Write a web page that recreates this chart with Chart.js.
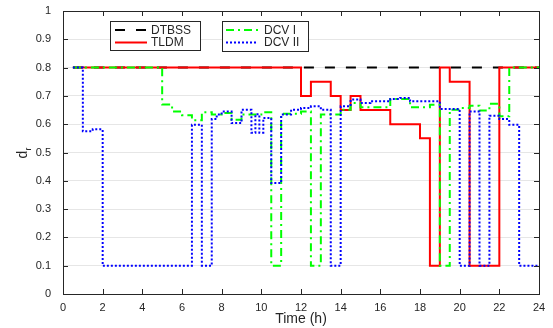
<!DOCTYPE html>
<html>
<head>
<meta charset="utf-8">
<script src="https://cdn.jsdelivr.net/npm/chart.js@4"></script>
<style>
  html, body { margin: 0; padding: 0; background: #fff; }
  #wrap { width: 553px; height: 328px; position: relative; }
</style>
</head>
<body>
<div id="wrap"><canvas id="c"></canvas></div>
<script>
// Step series: each value holds from its time until the next time.
const dtbssT = [0.5, 24];
const dtbssV = [0.8, 0.8];

const tldmT = [0.5, 12, 12.5, 13.5, 14, 14.5, 15, 16.5, 18, 18.5, 19, 19.5, 20.5, 22, 24];
const tldmV = [0.8, 0.7, 0.75, 0.7, 0.65, 0.7, 0.65, 0.6, 0.55, 0.1, 0.8, 0.75, 0.1, 0.8, 0.8];

const dcv1T = [0.5, 5, 5.5, 6, 6.5, 7, 7.5, 8, 8.5, 9, 10, 10.5, 11, 12, 12.5, 13, 14, 14.5, 15,
               16.5, 17.5, 18.5, 19, 19.5, 20, 20.5, 21, 21.5, 22, 22.5, 24];
const dcv1V = [0.8, 0.67, 0.645, 0.632, 0.614, 0.642, 0.634, 0.64, 0.616, 0.634, 0.642, 0.1, 0.637, 0.645, 0.1, 0.634, 0.651, 0.675, 0.66,
               0.689, 0.66, 0.669, 0.1, 0.651, 0.657, 0.665, 0.648, 0.672, 0.628, 0.8, 0.8];

const dcv2T = [0.5, 1, 1.5, 2, 6.5, 7, 7.5, 7.75, 8, 8.5, 9, 9.5, 9.7, 9.9, 10.1, 10.5, 11, 11.5, 12, 12.5, 13, 13.5,
               14, 14.5, 15, 15.5, 16.5, 17, 17.5, 19, 20, 20.5, 21, 21.5, 22, 22.5, 23, 24];
const dcv2V = [0.8, 0.575, 0.582, 0.1, 0.598, 0.1, 0.618, 0.634, 0.645, 0.604, 0.651, 0.57, 0.635, 0.57, 0.622, 0.392, 0.634, 0.651, 0.657, 0.663, 0.651, 0.1,
               0.663, 0.687, 0.675, 0.681, 0.689, 0.693, 0.681, 0.654, 0.1, 0.645, 0.1, 0.63, 0.618, 0.598, 0.1, 0.1];

const xTicks = [0, 2, 4, 6, 8, 10, 12, 14, 16, 18, 20, 22, 24];
const yTicks = [0, 0.1, 0.2, 0.3, 0.4, 0.5, 0.6, 0.7, 0.8, 0.9, 1];

const FONT = '"Liberation Sans", Arial, sans-serif';
const INK = '#262626';

const pts = (ts, vs) => ts.map((t, i) => ({ x: t, y: vs[i] }));

const series = [
  { label: 'DTBSS', t: dtbssT, v: dtbssV, color: '#000000', dash: [10, 11], order: 4 },
  { label: 'TLDM',  t: tldmT,  v: tldmV,  color: '#ff0000', dash: [],        order: 3 },
  { label: 'DCV I', t: dcv1T,  v: dcv1V,  color: '#00ff00', dash: [8, 4, 2, 4], order: 2 },
  { label: 'DCV II', t: dcv2T, v: dcv2V,  color: '#0000ff', dash: [2, 2],    order: 1 },
];

// ─── Frame, inward ticks, legend boxes, axis titles ─────────────────────
const matlabFrame = {
  id: 'matlabFrame',
  afterDraw(chart) {
    const { ctx, chartArea: a, scales: { x, y } } = chart;
    ctx.save();
    ctx.strokeStyle = INK;
    ctx.lineWidth = 1;
    ctx.setLineDash([]);
    ctx.strokeRect(Math.round(a.left) + 0.5, Math.round(a.top) + 0.5,
                   Math.round(a.right - a.left), Math.round(a.bottom - a.top));
    ctx.beginPath();
    xTicks.forEach(v => {
      const px = Math.round(x.getPixelForValue(v)) + 0.5;
      ctx.moveTo(px, a.bottom); ctx.lineTo(px, a.bottom - 5);
      ctx.moveTo(px, a.top); ctx.lineTo(px, a.top + 5);
    });
    yTicks.forEach(v => {
      const py = Math.round(y.getPixelForValue(v)) + 0.5;
      ctx.moveTo(a.left, py); ctx.lineTo(a.left + 5, py);
      ctx.moveTo(a.right, py); ctx.lineTo(a.right - 5, py);
    });
    ctx.stroke();

    // legend boxes
    const boxes = [
      { x: 110.5, y: 21.5, w: 90, h: 29, lineX: 115, textX: 151, items: [series[0], series[1]] },
      { x: 222.5, y: 21.5, w: 86, h: 30, lineX: 226, textX: 264, items: [series[2], series[3]] },
    ];
    ctx.font = '12px ' + FONT;
    ctx.textBaseline = 'middle';
    ctx.textAlign = 'left';
    boxes.forEach(b => {
      ctx.fillStyle = '#fff';
      ctx.fillRect(b.x, b.y, b.w, b.h);
      ctx.strokeStyle = INK;
      ctx.lineWidth = 1;
      ctx.setLineDash([]);
      ctx.strokeRect(b.x, b.y, b.w, b.h);
      b.items.forEach((s, i) => {
        const cy = b.y + 8.5 + i * 12.5;
        ctx.strokeStyle = s.color;
        ctx.lineWidth = 2;
        ctx.setLineDash(s.dash);
        ctx.beginPath();
        ctx.moveTo(b.lineX, cy); ctx.lineTo(b.lineX + 32, cy);
        ctx.stroke();
        ctx.setLineDash([]);
        ctx.fillStyle = INK;
        ctx.fillText(s.label, b.textX, cy + 0.5);
      });
    });

    // axis titles
    ctx.fillStyle = INK;
    ctx.textAlign = 'center';
    ctx.font = '14px ' + FONT;
    ctx.fillText('Time (h)', (a.left + a.right) / 2, 319);
    ctx.translate(23, (a.top + a.bottom) / 2);
    ctx.rotate(-Math.PI / 2);
    ctx.textAlign = 'left';
    ctx.font = '14px ' + FONT;
    const dw = ctx.measureText('d').width;
    ctx.fillText('d', -dw / 2 - 2, 0);
    ctx.font = '9px ' + FONT;
    ctx.fillText('r', dw / 2 - 2, 6);
    ctx.restore();
  },
};

new Chart(document.getElementById('c'), {
  type: 'line',
  data: {
    datasets: series.map(s => ({
      label: s.label,
      data: pts(s.t, s.v),
      borderColor: s.color,
      borderWidth: 2,
      borderDash: s.dash,
      stepped: true,
      pointRadius: 0,
      fill: false,
      order: s.order,
    })),
  },
  options: {
    responsive: true,
    maintainAspectRatio: false,
    animation: false,
    layout: { padding: { left: 0, top: 11, right: 14, bottom: 0 } },
    plugins: { legend: { display: false }, tooltip: { enabled: false } },
    scales: {
      x: {
        type: 'linear', min: 0, max: 24,
        afterBuildTicks: s => { s.ticks = xTicks.map(v => ({ value: v })); },
        afterFit: s => { s.height = 34; s.paddingLeft = 0; s.paddingRight = 0; },
        grid: { display: false, drawTicks: false },
        border: { display: false },
        ticks: { color: INK, font: { family: FONT, size: 11 }, padding: 7, maxRotation: 0 },
      },
      y: {
        type: 'linear', min: 0, max: 1,
        afterBuildTicks: s => { s.ticks = yTicks.map(v => ({ value: v })); },
        afterFit: s => { s.width = 63; s.paddingTop = 0; s.paddingBottom = 0; },
        grid: { color: '#e6e6e6', drawTicks: false },
        border: { display: false },
        ticks: { color: INK, font: { family: FONT, size: 11 }, padding: 12,
                 callback: v => String(Math.round(v * 10) / 10) },
      },
    },
  },
  plugins: [matlabFrame],
});
</script>
</body>
</html>
